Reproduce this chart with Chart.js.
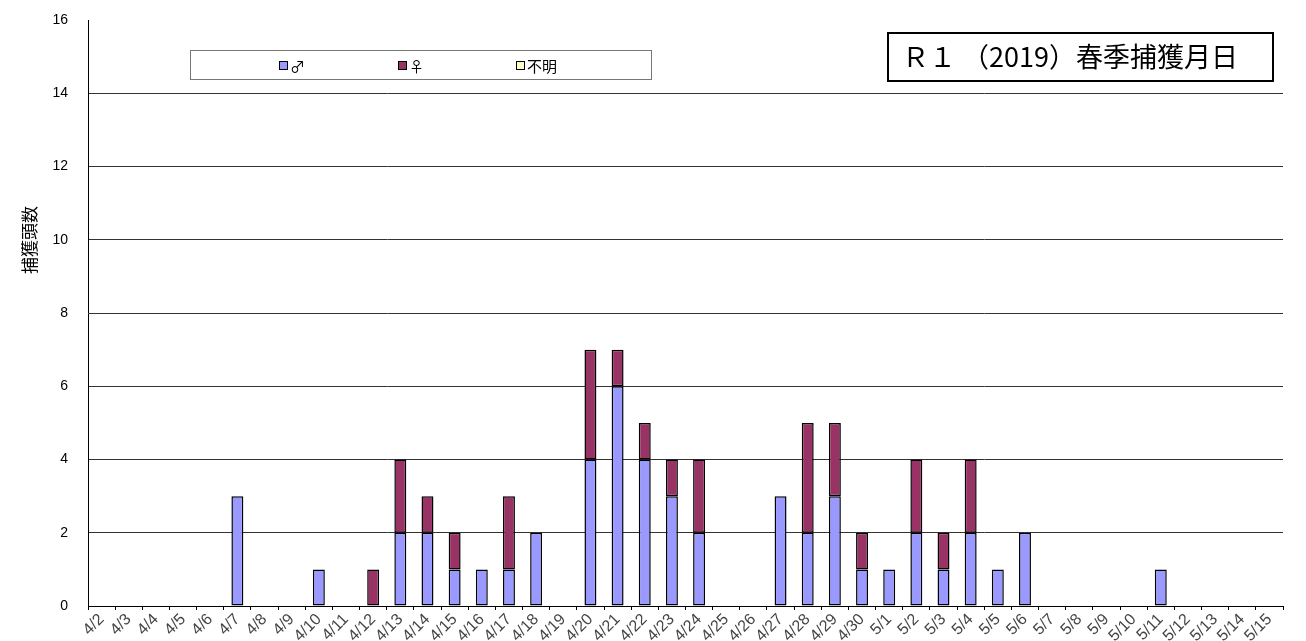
<!DOCTYPE html>
<html><head><meta charset="utf-8">
<script src="https://cdn.jsdelivr.net/npm/chart.js@4"></script>
<style>html,body{margin:0;padding:0;background:#fff}#w{width:1306px;height:641px}</style>
</head><body><div id="w"><canvas id="c"></canvas></div>
<script>
const categories = ["4/2","4/3","4/4","4/5","4/6","4/7","4/8","4/9","4/10","4/11","4/12","4/13","4/14","4/15","4/16","4/17","4/18","4/19","4/20","4/21","4/22","4/23","4/24","4/25","4/26","4/27","4/28","4/29","4/30","5/1","5/2","5/3","5/4","5/5","5/6","5/7","5/8","5/9","5/10","5/11","5/12","5/13","5/14","5/15"];
const male    = [0,0,0,0,0,3,0,0,1,0,0,2,2,1,1,1,2,0,4,6,4,3,2,0,0,3,2,3,1,1,2,1,2,1,2,0,0,0,0,1,0,0,0,0];
const female  = [0,0,0,0,0,0,0,0,0,0,1,2,1,1,0,2,0,0,3,1,1,1,2,0,0,0,3,2,1,0,2,1,2,0,0,0,0,0,0,0,0,0,0,0];
const unknown = [0,0,0,0,0,0,0,0,0,0,0,0,0,0,0,0,0,0,0,0,0,0,0,0,0,0,0,0,0,0,0,0,0,0,0,0,0,0,0,0,0,0,0,0];
const seriesLabels = ["♂","♀","不明"];
const yTicks = [0,2,4,6,8,10,12,14,16];
const chartTitle = "Ｒ１ （2019）春季捕獲月日";
const yTitle = "捕獲頭数";
const colors = ["#9999FF","#993366","#FFFFCC"];

const decor = {
  id:'decor',
  afterDraw(chart){
    const ctx = chart.ctx;
    ctx.save();
    ctx.fillStyle='#fff';
    ctx.fillRect(888,33,385,48);
    ctx.strokeStyle='#000'; ctx.lineWidth=2;
    ctx.strokeRect(888,33,385,48);
    ctx.fillStyle='#000';
    ctx.font='27px "Noto Sans CJK JP"';
    ctx.textBaseline='middle'; ctx.textAlign='left';
    ctx.fillText(chartTitle,902,57);
    ctx.fillStyle='#fff';
    ctx.fillRect(190.5,50.5,461,29);
    ctx.strokeStyle='#777'; ctx.lineWidth=1;
    ctx.strokeRect(190.5,50.5,461,29);
    const xs=[279,398,516];
    ctx.font='15px "Noto Sans CJK JP"';
    chart.data.datasets.forEach((ds,i)=>{
      ctx.fillStyle=ds.backgroundColor;
      ctx.fillRect(xs[i]+0.5,61.5,8,8);
      ctx.strokeStyle='#000'; ctx.lineWidth=1;
      ctx.strokeRect(xs[i]+0.5,61.5,8,8);
      ctx.fillStyle='#000'; ctx.textAlign='left'; ctx.textBaseline='middle';
      ctx.fillText(ds.label,xs[i]+11,66);
    });
    ctx.translate(30,240); ctx.rotate(-Math.PI/2);
    ctx.font='17px "Noto Sans CJK JP"'; ctx.textAlign='center'; ctx.textBaseline='middle';
    ctx.fillStyle='#000';
    ctx.fillText(yTitle,0,0);
    ctx.restore();
  }
};

new Chart(document.getElementById('c'),{
  type:'bar',
  data:{labels:categories,datasets:[male,female,unknown].map((d,i)=>({
    label:seriesLabels[i],data:d.map(v=>v===0?null:v),backgroundColor:colors[i],borderColor:'#000',borderWidth:1.5,
    barPercentage:0.44,categoryPercentage:1.0,borderSkipped:false,inflateAmount:0}))},
  options:{
    responsive:true,maintainAspectRatio:false,animation:false,
    layout:{padding:{top:20,right:23,left:0,bottom:0}},
    plugins:{legend:{display:false},tooltip:{enabled:false},title:{display:false}},
    scales:{
      x:{stacked:true,offset:true,
        grid:{display:true,drawOnChartArea:false,drawTicks:true,tickLength:4,color:'#000',offset:true},
        border:{color:'#000',width:1},
        ticks:{maxRotation:45,minRotation:45,autoSkip:false,color:'#444',font:{family:'"Liberation Sans", Arial',size:16},padding:0},
        afterFit(s){s.height=35;s.paddingLeft=0;s.paddingRight=0;}
      },
      y:{stacked:true,min:0,max:16,
        afterBuildTicks(s){s.ticks=yTicks.map(v=>({value:v}));},
        grid:{drawTicks:false,color:c=>c.tick&&c.tick.value===16?'rgba(0,0,0,0)':'#333',lineWidth:1},
        border:{color:'#000',width:1},
        ticks:{color:'#000',padding:20,font:{family:'"Liberation Sans", Arial',size:14}},
        afterFit(s){s.width=88;s.paddingTop=0;s.paddingBottom=0;}
      }
    }
  },
  plugins:[decor]
});
</script></body></html>
